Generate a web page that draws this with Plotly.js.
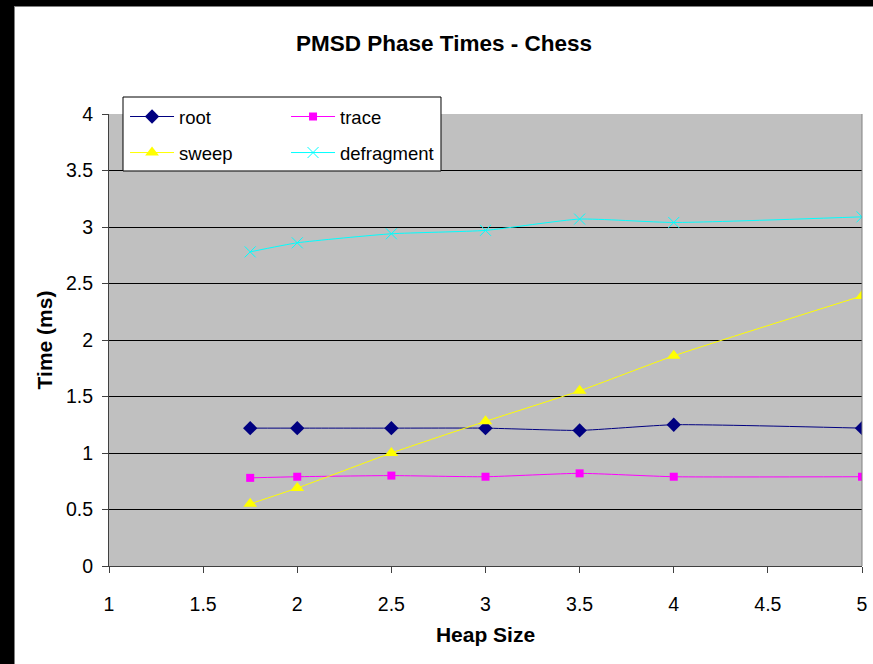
<!DOCTYPE html>
<html>
<head>
<meta charset="utf-8">
<script src="https://cdn.plot.ly/plotly-3.0.1.min.js"></script>
<style>
  html, body { margin: 0; padding: 0; background: #000; width: 873px; height: 664px; overflow: hidden; }
  #chart { position: absolute; left: 14px; top: 6px; width: 858px; height: 657px;
           border-left: 1px solid #808080; border-top: 1px solid #808080; background: #fff; }
</style>
</head>
<body>
<div id="chart"></div>
<script>
const heapSize   = [1.75, 2, 2.5, 3, 3.5, 4, 5];
const root       = [1.22, 1.22, 1.22, 1.22, 1.20, 1.25, 1.22];
const trace      = [0.78, 0.79, 0.80, 0.79, 0.82, 0.79, 0.79];
const sweep      = [0.55, 0.69, 1.00, 1.28, 1.55, 1.86, 2.39];
const defragment = [2.78, 2.86, 2.94, 2.97, 3.07, 3.04, 3.09];

const xTicks = [1, 1.5, 2, 2.5, 3, 3.5, 4, 4.5, 5];
const yTicks = [0, 0.5, 1, 1.5, 2, 2.5, 3, 3.5, 4];

const FONT = 'Liberation Sans, Arial, sans-serif';
const lineShape = {shape: 'spline', smoothing: 0.5, width: 1};

const traces = [
  {x: heapSize, y: root, name: 'root', mode: 'lines+markers', legend: 'legend',
   line: Object.assign({color: '#000080'}, lineShape),
   marker: {symbol: 'diamond', size: 11, color: '#000080'}},
  {x: heapSize, y: trace, name: 'trace', mode: 'lines+markers', legend: 'legend',
   line: Object.assign({color: '#FF00FF'}, lineShape),
   marker: {symbol: 'square', size: 8, color: '#FF00FF'}},
  {x: heapSize, y: sweep, name: 'sweep', mode: 'lines+markers', legend: 'legend2',
   line: Object.assign({color: '#FFFF00'}, lineShape),
   marker: {symbol: 'triangle-up', size: 12, color: '#FFFF00'}},
  {x: heapSize, y: defragment, name: 'defragment', mode: 'lines+markers', legend: 'legend2',
   line: Object.assign({color: '#00FFFF'}, lineShape),
   marker: {symbol: 'x-thin', size: 11, color: '#00FFFF', line: {color: '#00FFFF', width: 1}}}
];

const legendCommon = {
  orientation: 'h', xanchor: 'left', yanchor: 'middle', x: 0.0213,
  bgcolor: 'rgba(0,0,0,0)', borderwidth: 0,
  font: {family: FONT, size: 18.5, color: '#000'},
  entrywidth: 102, entrywidthmode: 'pixels', itemwidth: 44
};

const layout = {
  width: 858, height: 657,
  margin: {l: 94, r: 11, t: 107, b: 98, pad: 0},
  paper_bgcolor: '#FFFFFF',
  plot_bgcolor: '#C0C0C0',
  font: {family: FONT, color: '#000'},
  title: {text: 'PMSD Phase Times - Chess', font: {family: FONT, size: 22.5, color: '#000', weight: 'bold'},
          xref: 'container', x: 0.5, xanchor: 'center', yref: 'container', y: 0.9452, yanchor: 'middle'},
  xaxis: {range: [1, 5], tickvals: xTicks, ticktext: xTicks.map(String), showgrid: false, zeroline: false,
          showline: true, linecolor: '#404040', linewidth: 1,
          ticks: 'outside', ticklen: 6, tickcolor: '#404040', ticklabelstandoff: 15,
          tickfont: {family: FONT, size: 19.5, color: '#000'},
          title: {text: 'Heap Size', font: {family: FONT, size: 21, color: '#000', weight: 'bold'}, standoff: 12}},
  yaxis: {range: [0, 4], tickvals: yTicks, ticktext: yTicks.map(String), showgrid: true, gridcolor: '#000', gridwidth: 1,
          zeroline: false, showline: true, linecolor: '#404040', linewidth: 1,
          ticks: 'outside', ticklen: 6, tickcolor: '#404040', ticklabelstandoff: 5,
          tickfont: {family: FONT, size: 19.5, color: '#000'},
          title: {text: 'Time (ms)', font: {family: FONT, size: 21, color: '#000', weight: 'bold'}, standoff: 7}},
  legend: Object.assign({}, legendCommon, {y: 0.9934}),
  legend2: Object.assign({}, legendCommon, {y: 0.9137}),
  shapes: [
    {type: 'line', xref: 'paper', yref: 'paper', x0: 1, x1: 1, y0: 0, y1: 1, line: {color: '#808080', width: 1}, layer: 'above'},
    {type: 'rect', xref: 'paper', yref: 'paper', x0: 0.0186, x1: 0.4409, y0: 0.8739, y1: 1.0376,
     fillcolor: '#FFFFFF', line: {color: '#000', width: 1}, layer: 'above'}
  ],
  showlegend: true
};

Plotly.newPlot('chart', traces, layout, {displayModeBar: false, staticPlot: true});
</script>
</body>
</html>
